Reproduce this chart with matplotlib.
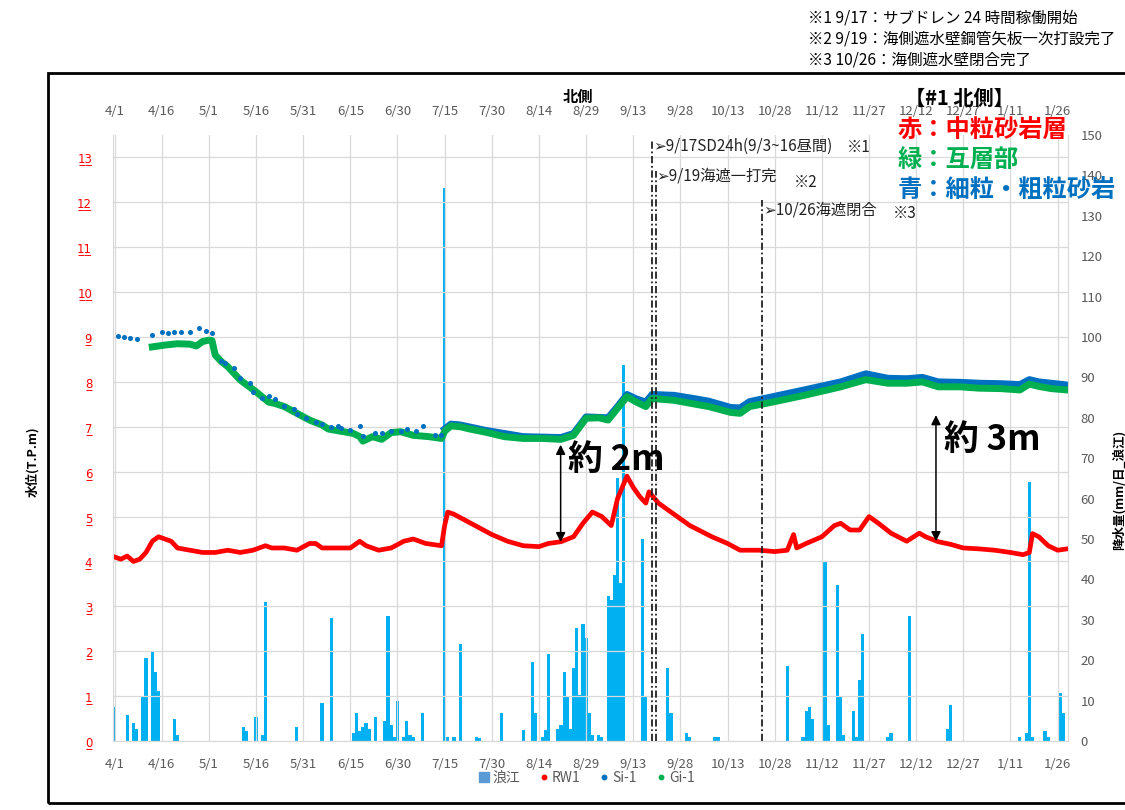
import numpy as np
import matplotlib.pyplot as plt
from matplotlib.lines import Line2D
from matplotlib.patches import Rectangle

plt.rcParams['font.family'] = ['Noto Sans CJK JP', 'DejaVu Sans']

# x = days since 4/1
tick_days = list(range(0, 301, 15))
tick_labels = ['4/1', '4/16', '5/1', '5/16', '5/31', '6/15', '6/30', '7/15', '7/30', '8/14',
               '8/29', '9/13', '9/28', '10/13', '10/28', '11/12', '11/27', '12/12', '12/27',
               '1/11', '1/26']

# daily rainfall at 浪江 (mm)
rain_day = [0, 4, 6, 7, 9, 10, 12, 13, 14, 19, 20, 41, 42, 45, 47, 48, 58, 66, 69, 76, 77, 78,
            79, 80, 81, 83, 86, 87, 88, 89, 90, 92, 93, 94, 95, 98, 105, 106, 108, 110, 115, 116,
            123, 130, 133, 134, 136, 137, 138, 141, 142, 143, 144, 145, 146, 147, 148, 149, 150,
            151, 152, 154, 155, 157, 158, 159, 160, 161, 162, 168, 169, 176, 177, 182, 183, 191,
            192, 214, 219, 220, 221, 222, 226, 227, 230, 231, 232, 235, 236, 237, 238, 246, 247,
            253, 265, 266, 288, 290, 291, 292, 296, 297, 301, 302]
rain_mm = [8.5, 6.5, 4.5, 3, 11, 20.5, 22, 17, 12.5, 5.5, 1.5, 3.5, 2.5, 6, 1.5, 34.5, 3.5, 9.5,
           30.5, 2, 7, 2.5, 3.5, 4.5, 3, 6, 5, 31, 4, 1, 10, 1, 5, 1.5, 1, 7, 137, 1, 1, 24, 1,
           0.8, 7, 2.6, 19.5, 7, 1, 2.6, 21.5, 3, 4, 17, 11, 3, 18, 28, 11.5, 29, 25.5, 7, 1.5,
           1.5, 1, 36, 35, 41, 65, 39, 93, 50, 11, 18, 7, 2, 1, 1, 1, 18.5, 1, 7.5, 8.5, 5.5,
           44.5, 4, 38.5, 11, 1.5, 7.5, 1, 15, 26.5, 1, 2, 31, 3, 9, 1, 2, 64, 1, 2.5, 1, 12, 7]

# RW1 water level (T.P.m)
rw1_day = [0, 2, 4, 6, 8, 10, 12, 14, 16, 18, 20, 24, 28, 32, 36, 40, 44, 48, 50, 54, 58, 62,
           64, 66, 70, 75, 78, 80, 84, 88, 92, 95, 99, 104, 105, 106, 108, 112, 116, 120, 125,
           130, 135, 138, 142, 146, 149, 152, 155, 158, 160, 163, 165, 167, 169, 170, 173, 178,
           183, 190, 195, 199, 205, 210, 214, 216, 217, 220, 225, 229, 231, 234, 237, 240, 243,
           247, 252, 256, 258, 262, 266, 270, 275, 280, 285, 289, 291, 292, 294, 297, 300, 303]
rw1_val = [4.1, 4.05, 4.12, 4.0, 4.05, 4.2, 4.45, 4.55, 4.5, 4.45, 4.3, 4.25, 4.2, 4.2, 4.25,
           4.2, 4.25, 4.35, 4.3, 4.3, 4.25, 4.4, 4.4, 4.3, 4.3, 4.3, 4.45, 4.35, 4.25, 4.3, 4.45,
           4.5, 4.4, 4.35, 4.8, 5.1, 5.05, 4.9, 4.75, 4.6, 4.45, 4.35, 4.33, 4.4, 4.44, 4.55,
           4.85, 5.1, 5.0, 4.8, 5.4, 5.9, 5.65, 5.45, 5.3, 5.55, 5.3, 5.05, 4.8, 4.55, 4.4, 4.25,
           4.25, 4.22, 4.25, 4.6, 4.3, 4.4, 4.55, 4.8, 4.85, 4.7, 4.7, 5.0, 4.85, 4.63, 4.45,
           4.63, 4.55, 4.44, 4.38, 4.3, 4.28, 4.25, 4.2, 4.15, 4.2, 4.62, 4.55, 4.35, 4.25, 4.28]

# Gi-1 water level
gi1_day = [12, 16, 20, 24, 26, 28, 30, 31, 32, 34, 36, 40, 45, 49, 51, 54, 58, 62, 66, 68, 72,
           76, 78, 79, 82, 85, 88, 91, 95, 100, 104, 105, 107, 110, 113, 118, 124, 130, 136, 142,
           146, 150, 154, 157, 160, 163, 166, 169, 171, 178, 185, 189, 196, 199, 202, 210, 220,
           231, 239, 246, 252, 257, 262, 269, 275, 282, 288, 291, 294, 298, 303]
gi1_val = [8.78, 8.82, 8.85, 8.84, 8.8, 8.9, 8.93, 8.92, 8.6, 8.45, 8.34, 8.04, 7.78, 7.55, 7.52,
           7.45, 7.3, 7.15, 7.04, 6.95, 6.9, 6.85, 6.78, 6.68, 6.78, 6.72, 6.87, 6.89, 6.81, 6.78,
           6.74, 6.9, 7.02, 7.0, 6.95, 6.88, 6.78, 6.74, 6.74, 6.72, 6.81, 7.19, 7.2, 7.15, 7.41,
           7.67, 7.55, 7.45, 7.63, 7.59, 7.5, 7.45, 7.32, 7.3, 7.45, 7.56, 7.71, 7.89, 8.05, 7.97,
           7.97, 8.0, 7.89, 7.89, 7.86, 7.85, 7.82, 7.95, 7.9, 7.85, 7.82]

# Si-1 water level: sparse readings, then continuous
si1_dot_day = [1, 3, 5, 7, 12, 15, 17, 19, 21, 24, 27, 29, 31, 34, 35, 38, 40, 43, 44, 47, 49,
               51, 54, 57, 58, 61, 64, 66, 69, 71, 72, 75, 78, 79, 83, 85, 88, 91, 93, 96, 98,
               102, 104]
si1_dot_val = [9.02, 9.0, 8.98, 8.95, 9.04, 9.11, 9.08, 9.11, 9.11, 9.11, 9.2, 9.14, 9.09, 8.46,
               8.43, 8.3, 8.09, 7.98, 7.78, 7.65, 7.68, 7.62, 7.46, 7.39, 7.28, 7.19, 7.11, 7.06,
               6.99, 7.02, 6.97, 6.93, 7.02, 6.79, 6.86, 6.86, 6.91, 6.9, 6.95, 6.9, 7.02, 6.81,
               6.82]
si1_day = [105, 107, 110, 118, 130, 142, 146, 150, 157, 160, 163, 166, 169, 171, 178, 185, 189,
           196, 199, 202, 210, 220, 231, 239, 246, 252, 257, 262, 269, 275, 282, 288, 291, 294,
           298, 303]
si1_val = [6.95, 7.06, 7.04, 6.92, 6.78, 6.76, 6.85, 7.22, 7.2, 7.45, 7.72, 7.62, 7.55, 7.72,
           7.7, 7.62, 7.57, 7.43, 7.42, 7.56, 7.68, 7.83, 8.0, 8.18, 8.08, 8.07, 8.1, 8.0, 7.99,
           7.97, 7.96, 7.94, 8.05, 8.0, 7.97, 7.93]

# event lines (9/17, 9/19, 10/26) as drawn in the chart
event_day = [171, 172.2, 206]
event_top = [13.39, 12.7, 12.05]

RED, GREEN, BLUE, RAIN = '#FF0000', '#00B050', '#0070C0', '#00B0F0'
GRAY = '#595959'

fig = plt.figure(figsize=(11.25, 8.1), dpi=100)
ax = fig.add_axes([113/1125, 1-741/810, (1068-113)/1125, (741-135)/810])
ax2 = ax.twinx()
ax.set_zorder(ax2.get_zorder() + 1)
ax.patch.set_visible(False)

ax2.bar(rain_day, rain_mm, width=1.0, color=RAIN, linewidth=0)
ax2.set_ylim(0, 150)
ax2.set_yticks(range(0, 151, 10))
ax2.tick_params(axis='y', length=0, pad=9, labelsize=9.5, labelcolor=GRAY)
for s in ax2.spines.values():
    s.set_visible(False)

ax.plot(si1_day, si1_val, color=BLUE, lw=5, solid_joinstyle='round')
ax.plot(gi1_day, gi1_val, color=GREEN, lw=5, solid_joinstyle='round')
ax.plot(si1_dot_day, si1_dot_val, 'o', ms=2.6, color=BLUE, ls='none')
ax.plot(rw1_day, rw1_val, color=RED, lw=3.4, solid_joinstyle='round')

ax.set_xlim(-0.5, 303.3)
ax.set_ylim(0, 13.5)
ax.set_xticks(tick_days)
ax.set_xticklabels(tick_labels)
ax.tick_params(axis='x', length=0, pad=12, labelsize=9.5, labelcolor=GRAY, labeltop=True)
ax.set_yticks(range(14))
ax.set_yticklabels([''.join(c + '\u0332' for c in str(v)) for v in range(14)],
                   family='DejaVu Sans')
ax.tick_params(axis='y', length=0, pad=15, labelsize=8.5, labelcolor=RED)
ax.grid(color='#D9D9D9', lw=0.9)
ax.spines['top'].set_visible(False)
for k in ['left', 'right', 'bottom']:
    ax.spines[k].set_color('#D9D9D9')

for d, top in zip(event_day, event_top):
    ax.plot([d, d], [0, top], color='#222222', lw=1.3, ls=(0, (4, 1.5, 1, 1.5)))

txt = dict(fontsize=11, color='#222222', va='center', family=['Noto Sans CJK JP', 'DejaVu Sans'])
ax.text(171.3, 13.25, '➢9/17SD24h(9/3~16昼間)', **txt)
ax.text(233, 13.22, '※1', **txt)
ax.text(172.3, 12.58, '➢9/19海遮一打完', **txt)
ax.text(216, 12.45, '※2', **txt)
ax.text(206.3, 11.82, '➢10/26海遮閉合', **txt)
ax.text(247.5, 11.75, '※3', **txt)

arrow = dict(arrowstyle='<|-|>', color='black', lw=1.1, mutation_scale=14, shrinkA=0, shrinkB=0)
ax.annotate('', xy=(141.9, 4.43), xytext=(141.9, 6.6), arrowprops=arrow)
ax.annotate('', xy=(261.3, 4.45), xytext=(261.3, 7.26), arrowprops=arrow)
ax.text(144.4, 6.26, '約 2m', fontsize=25, fontweight='bold', va='center')
ax.text(264, 6.72, '約 3m', fontsize=25, fontweight='bold', va='center')

fig.text(578/1125, 1-97/810, '北側', fontsize=11, fontweight='bold', ha='center', va='center')
fig.text(33/1125, 1-462/810, '水位(T.P.m)', fontsize=9, fontweight='bold', rotation=90,
         ha='center', va='center')
fig.text(1119/1125, 1-490/810, '降水量(mm/日_浪江)', fontsize=9, fontweight='bold',
         rotation=90, ha='center', va='center')

fig.text(905/1125, 1-98/810, '【#1 北側】', fontsize=14.5, fontweight='bold', va='center')
fig.text(898/1125, 1-131/810, '赤：中粒砂岩層', fontsize=17.5, fontweight='bold', color=RED, va='center')
fig.text(898/1125, 1-160/810, '緑：互層部', fontsize=17.5, fontweight='bold', color=GREEN, va='center')
fig.text(898/1125, 1-190/810, '青：細粒・粗粒砂岩', fontsize=17.5, fontweight='bold', color=BLUE, va='center')

notes = ['※1 9/17：サブドレン 24 時間稼働開始',
         '※2 9/19：海側遮水壁鋼管矢板一次打設完了',
         '※3 10/26：海側遮水壁閉合完了']
for i, n in enumerate(notes):
    fig.text(808/1125, 1-(18 + 21*i)/810, n, fontsize=11.2, va='center')

handles = [Line2D([], [], marker='s', ls='none', color='#5B9BD5', ms=6.5),
           Line2D([], [], marker='o', ls='none', color=RED, ms=3.2),
           Line2D([], [], marker='o', ls='none', color=BLUE, ms=3.2),
           Line2D([], [], marker='o', ls='none', color=GREEN, ms=3.2)]
fig.legend(handles, ['浪江', 'RW1', 'Si-1', 'Gi-1'], loc='center', ncol=4, frameon=False,
           bbox_to_anchor=(586/1125, 1-778/810), fontsize=10, labelcolor=GRAY,
           handletextpad=0.1, columnspacing=1.2, handlelength=1)

fig.add_artist(Rectangle((48/1125, 1-803/810), 1.2, (803-73)/810, transform=fig.transFigure,
                         fill=False, lw=2, ec='black'))

fig.savefig('out.png', dpi=100)
